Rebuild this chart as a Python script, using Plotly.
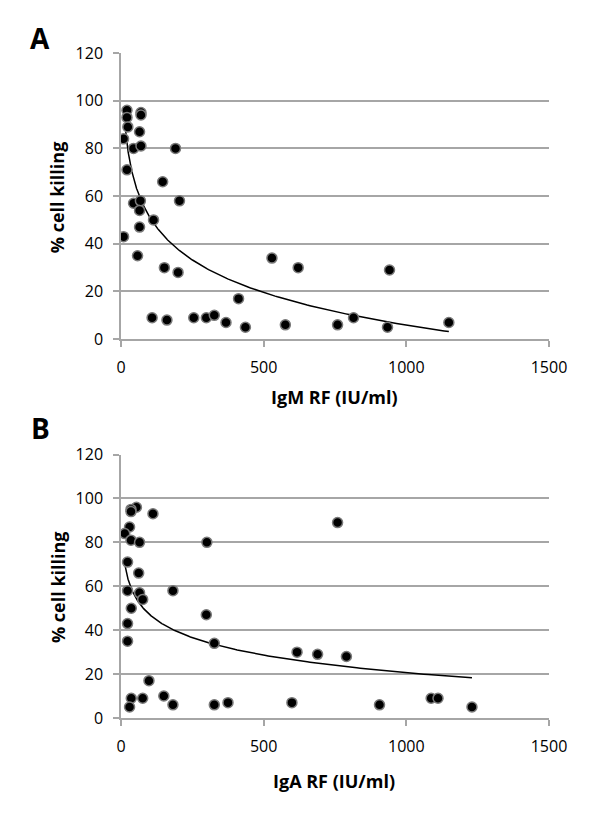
import numpy as np
import plotly.graph_objects as go

# Panel A: IgM RF vs % cell killing
igm_rf = [21, 21, 24, 9, 44, 70, 70, 65, 70, 191, 21, 146, 205, 44, 68, 65, 114, 65, 9, 58,
          152, 200, 529, 621, 412, 109, 161, 255, 299, 327, 368, 436, 576, 759, 815, 941, 934, 1149]
igm_kill = [96, 93, 89, 84, 80, 95, 94, 87, 81, 80, 71, 66, 58, 57, 58, 54, 50, 47, 43, 35,
            30, 28, 34, 30, 17, 9, 8, 9, 9, 10, 7, 5, 6, 6, 9, 29, 5, 7]

# Panel B: IgA RF vs % cell killing
iga_rf = [54, 35, 35, 112, 30, 13, 35, 65, 301, 759, 23, 62, 23, 182, 65, 76, 36, 299, 23, 23,
          327, 617, 689, 790, 98, 36, 76, 30, 150, 182, 327, 375, 599, 906, 1087, 1111, 1230]
iga_kill = [96, 95, 94, 93, 87, 84, 81, 80, 80, 89, 71, 66, 58, 58, 57, 54, 50, 47, 43, 35,
            34, 30, 29, 28, 17, 9, 9, 5, 10, 6, 6, 7, 7, 6, 9, 9, 5]

# Logarithmic trendlines: y = a*ln(x) + b over [x_start, x_end]
igm_trend = dict(a=-19.7, b=142.0, x_start=15, x_end=1149)
iga_trend = dict(a=-11.5, b=100.1, x_start=15, x_end=1230)

x_ticks = [0, 500, 1000, 1500]
y_ticks = [0, 20, 40, 60, 80, 100, 120]
panel_labels = ["A", "B"]
x_titles = ["IgM RF (IU/ml)", "IgA RF (IU/ml)"]
y_title = "% cell killing"


def trend_curve(t):
    xx = np.geomspace(t["x_start"], t["x_end"], 300)
    return xx, t["a"] * np.log(xx) + t["b"]


FONT = "Open Sans"
GRID = "#a6a6a6"
OFF = 8  # page body margin offset

fig = go.Figure()
panels = [(igm_rf, igm_kill, igm_trend), (iga_rf, iga_kill, iga_trend)]
for i, (xs, ys, tr) in enumerate(panels):
    ax = "" if i == 0 else "2"
    tx, ty = trend_curve(tr)
    fig.add_trace(go.Scatter(x=tx, y=ty, mode="lines", xaxis="x" + ax, yaxis="y" + ax,
                             line=dict(color="black", width=1.5),
                             showlegend=False, hoverinfo="skip"))
    fig.add_trace(go.Scatter(x=xs, y=ys, mode="markers", xaxis="x" + ax, yaxis="y" + ax,
                             marker=dict(size=10, color="black",
                                         line=dict(color="#7a7a7a", width=1.5)),
                             showlegend=False, hoverinfo="skip"))

W, HT = 600, 824
left_px, right_px = 120.7 - OFF, 548.7 - OFF
topA, botA = 53 - OFF, 339.3 - OFF
topB, botB = 454.7 - OFF, 718.3 - OFF
L, R, T, B = left_px, W - right_px, topA, HT - botB
H = HT - T - B
domA = [(botB - botA) / H, 1.0]
domB = [0.0, (botB - topB) / H]

axis_common_x = dict(range=[0, 1500], tickvals=x_ticks, showgrid=False, zeroline=False,
                     showline=True, linecolor=GRID, linewidth=1.5, ticks="outside",
                     ticklen=6, tickcolor=GRID, tickwidth=1.5, ticklabelstandoff=7,
                     tickfont=dict(family=FONT, size=16, color="black"))
axis_common_y = dict(range=[0, 120], tickvals=y_ticks, showgrid=True, gridcolor=GRID,
                     gridwidth=1.5, zeroline=False, showline=True, linecolor=GRID,
                     linewidth=1.5, ticks="outside", ticklen=6, tickcolor=GRID,
                     tickwidth=1.5, ticklabelstandoff=7,
                     tickfont=dict(family=FONT, size=16, color="black"))

fig.update_layout(
    width=W, height=HT,
    margin=dict(l=L, r=R, t=T, b=B, autoexpand=False),
    paper_bgcolor="white", plot_bgcolor="white",
    xaxis=dict(domain=[0, 1], anchor="y", **axis_common_x),
    yaxis=dict(domain=domA, anchor="x", **axis_common_y),
    xaxis2=dict(domain=[0, 1], anchor="y2", **axis_common_x),
    yaxis2=dict(domain=domB, anchor="x2", **axis_common_y),
)

annotations = []
for lab, ypx in zip(panel_labels, [38, 428]):
    annotations.append(dict(text="<b>%s</b>" % lab, x=40, y=ypx,
                            font=dict(family=FONT, size=28, color="black")))
for t, ypx in zip(x_titles, [397, 781]):
    annotations.append(dict(text="<b>%s</b>" % t, x=334, y=ypx,
                            font=dict(family=FONT, size=18, color="black")))
for ypx in [197, 587]:
    annotations.append(dict(text="<b>%s</b>" % y_title, x=57, y=ypx, textangle=-90,
                            font=dict(family=FONT, size=18, color="black")))

for a in annotations:
    a["x"] = (a["x"] - OFF - L) / (W - L - R)
    a["y"] = (HT - B - (a["y"] - OFF)) / H
    a["xref"] = "paper"
    a["yref"] = "paper"
    a["xanchor"] = "center"
    a["yanchor"] = "middle"
    a["showarrow"] = False
fig.update_layout(annotations=annotations)

fig.write_html("out.html")
